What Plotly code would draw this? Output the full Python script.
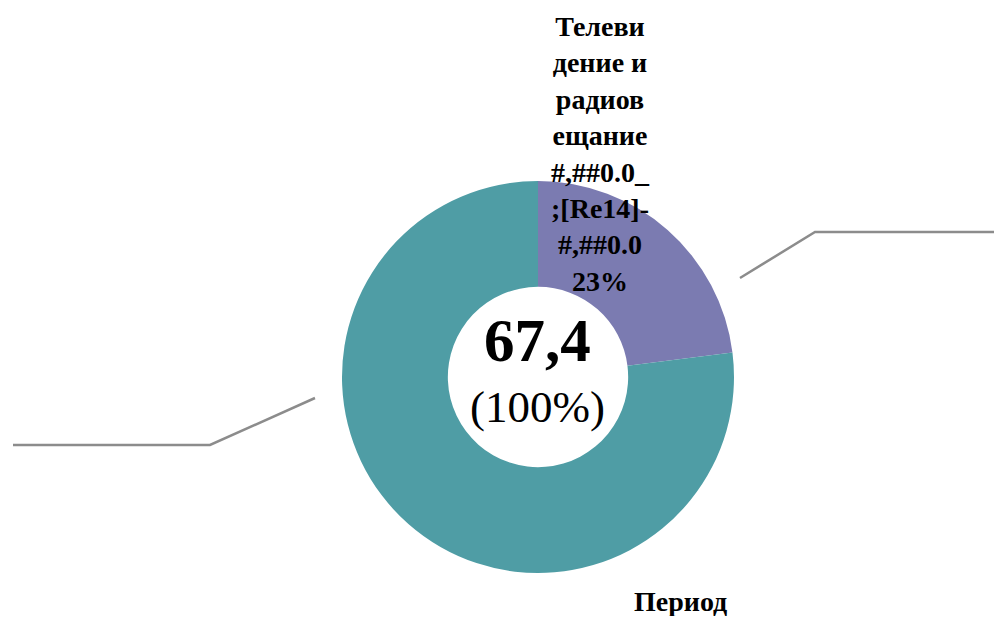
import plotly.graph_objects as go

# data
labels = ["Телевидение и радиовещание", "Период"]
values = [15.5, 51.9]
total_text = "67,4"
colors = ["#7b7bb1", "#4f9da5"]

# the page body keeps an 8px margin, so the figure is sized to fit the window
W, H = 1002, 624
M = 8
FW, FH = W - 2 * M, H - 2 * M


def px(x):
    return (x - M) / FW


def py(y):
    return 1 - (y - M) / FH


total = sum(values)
share = [v / total for v in values]

fig = go.Figure()
fig.add_trace(go.Pie(
    labels=labels,
    values=values,
    hole=0.46,
    sort=False,
    direction="clockwise",
    rotation=0,
    marker=dict(colors=colors, line=dict(width=0)),
    textinfo="none",
    hoverinfo="label+value+percent",
    showlegend=False,
    domain=dict(x=[px(342), px(734)], y=[py(573), py(181)]),
))

serif = "Liberation Serif, Times New Roman, serif"

# slice labels (Excel-style, wrapped)
label_top = "Телеви<br>дение и<br>радиов<br>ещание<br>#,##0.0_<br>;[Re14]-<br>#,##0.0<br>" + \
    "{:.0%}".format(share[0])
fig.add_annotation(x=px(600), y=py(9), xref="paper", yref="paper",
                   text="<b>" + label_top + "</b>", showarrow=False,
                   xanchor="center", yanchor="top", align="center",
                   font=dict(family=serif, size=28, color="#000000"))
fig.add_annotation(x=px(680), y=py(584), xref="paper", yref="paper",
                   text="<b>" + labels[1] + "</b>", showarrow=False,
                   xanchor="center", yanchor="top", align="center",
                   font=dict(family=serif, size=28, color="#000000"))

# centre total
fig.add_annotation(x=px(537), y=py(340), xref="paper", yref="paper",
                   text="<b>" + total_text + "</b>", showarrow=False,
                   xanchor="center", yanchor="middle",
                   font=dict(family=serif, size=61, color="#000000"))
fig.add_annotation(x=px(537), y=py(407), xref="paper", yref="paper",
                   text="(100%)", showarrow=False,
                   xanchor="center", yanchor="middle",
                   font=dict(family=serif, size=45, color="#000000"))

# leader lines
line_style = dict(color="#8c8c8c", width=2.5)
fig.add_shape(type="path", xref="paper", yref="paper",
              path="M {} {} L {} {} L {} {}".format(px(740), py(278), px(815), py(232), px(1002), py(232)),
              line=line_style)
fig.add_shape(type="path", xref="paper", yref="paper",
              path="M {} {} L {} {} L {} {}".format(px(315), py(398), px(210), py(445), px(13), py(445)),
              line=line_style)

fig.update_layout(
    width=FW, height=FH,
    margin=dict(l=0, r=0, t=0, b=0),
    paper_bgcolor="white",
    plot_bgcolor="white",
)

fig.write_html("out.html")
